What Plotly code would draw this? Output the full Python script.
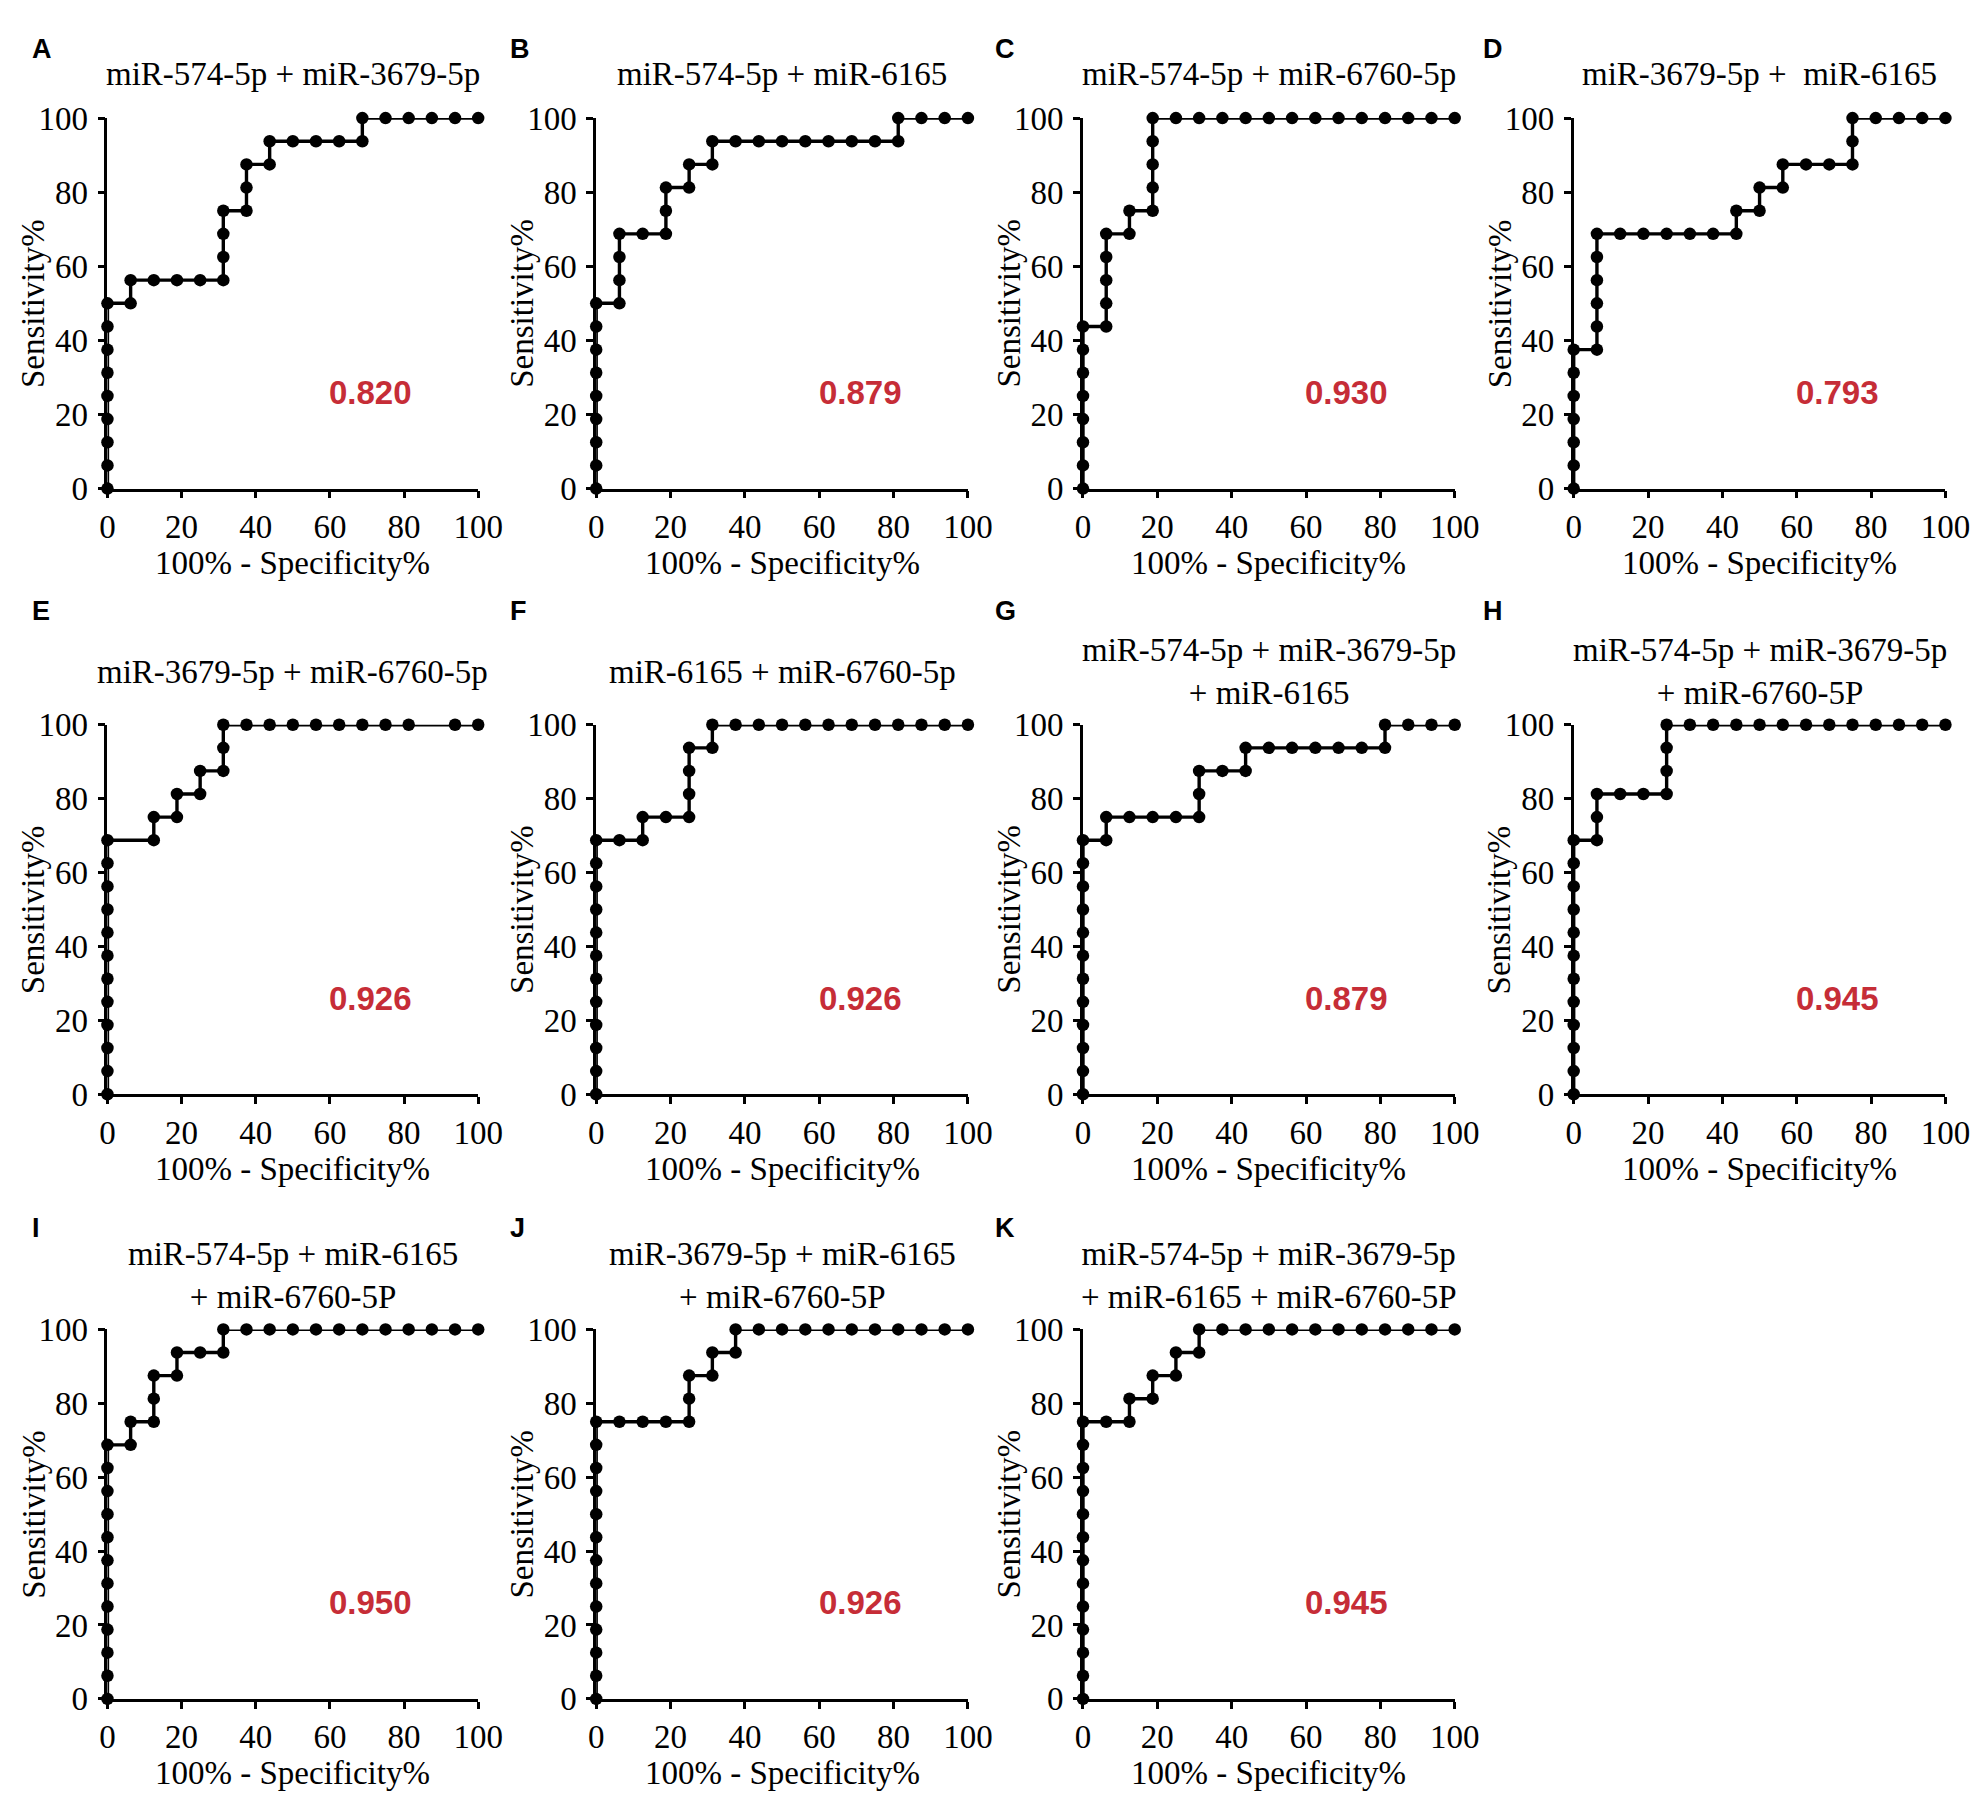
import plotly.graph_objects as go

# ROC points for each panel (100% - specificity%, sensitivity%)
panel_letters = ["A", "B", "C", "D", "E", "F", "G", "H", "I", "J", "K"]

panel_titles = [
    "miR-574-5p + miR-3679-5p",
    "miR-574-5p + miR-6165",
    "miR-574-5p + miR-6760-5p",
    "miR-3679-5p +  miR-6165",
    "miR-3679-5p + miR-6760-5p",
    "miR-6165 + miR-6760-5p",
    "miR-574-5p + miR-3679-5p<br>+ miR-6165",
    "miR-574-5p + miR-3679-5p<br>+ miR-6760-5P",
    "miR-574-5p + miR-6165<br>+ miR-6760-5P",
    "miR-3679-5p + miR-6165<br>+ miR-6760-5P",
    "miR-574-5p + miR-3679-5p<br>+ miR-6165 + miR-6760-5P",
]

auc_values = ["0.820", "0.879", "0.930", "0.793", "0.926", "0.926",
              "0.879", "0.945", "0.950", "0.926", "0.945"]

A_x = [0, 0, 0, 0, 0, 0, 0, 0, 0, 6.25, 6.25, 12.5, 18.75, 25, 31.25, 31.25, 31.25, 31.25,
       37.5, 37.5, 37.5, 43.75, 43.75, 50, 56.25, 62.5, 68.75, 68.75, 75, 81.25, 87.5, 93.75, 100]
A_y = [0, 6.25, 12.5, 18.75, 25, 31.25, 37.5, 43.75, 50, 50, 56.25, 56.25, 56.25, 56.25, 56.25, 62.5, 68.75, 75,
       75, 81.25, 87.5, 87.5, 93.75, 93.75, 93.75, 93.75, 93.75, 100, 100, 100, 100, 100, 100]

B_x = [0, 0, 0, 0, 0, 0, 0, 0, 0, 6.25, 6.25, 6.25, 6.25, 12.5, 18.75, 18.75, 18.75, 25, 25, 31.25, 31.25,
       37.5, 43.75, 50, 56.25, 62.5, 68.75, 75, 81.25, 81.25, 87.5, 93.75, 100]
B_y = [0, 6.25, 12.5, 18.75, 25, 31.25, 37.5, 43.75, 50, 50, 56.25, 62.5, 68.75, 68.75, 68.75, 75, 81.25, 81.25, 87.5, 87.5, 93.75,
       93.75, 93.75, 93.75, 93.75, 93.75, 93.75, 93.75, 93.75, 100, 100, 100, 100]

C_x = [0, 0, 0, 0, 0, 0, 0, 0, 6.25, 6.25, 6.25, 6.25, 6.25, 12.5, 12.5, 18.75, 18.75, 18.75, 18.75, 18.75,
       25, 31.25, 37.5, 43.75, 50, 56.25, 62.5, 68.75, 75, 81.25, 87.5, 93.75, 100]
C_y = [0, 6.25, 12.5, 18.75, 25, 31.25, 37.5, 43.75, 43.75, 50, 56.25, 62.5, 68.75, 68.75, 75, 75, 81.25, 87.5, 93.75, 100,
       100, 100, 100, 100, 100, 100, 100, 100, 100, 100, 100, 100, 100]

D_x = [0, 0, 0, 0, 0, 0, 0, 6.25, 6.25, 6.25, 6.25, 6.25, 6.25, 12.5, 18.75, 25, 31.25, 37.5, 43.75, 43.75,
       50, 50, 56.25, 56.25, 62.5, 68.75, 75, 75, 75, 81.25, 87.5, 93.75, 100]
D_y = [0, 6.25, 12.5, 18.75, 25, 31.25, 37.5, 37.5, 43.75, 50, 56.25, 62.5, 68.75, 68.75, 68.75, 68.75, 68.75, 68.75, 68.75, 75,
       75, 81.25, 81.25, 87.5, 87.5, 87.5, 87.5, 93.75, 100, 100, 100, 100, 100]

E_x = [0, 0, 0, 0, 0, 0, 0, 0, 0, 0, 0, 0, 12.5, 12.5, 18.75, 18.75, 25, 25, 31.25, 31.25, 31.25,
       37.5, 43.75, 50, 56.25, 62.5, 68.75, 75, 81.25, 93.75, 100]
E_y = [0, 6.25, 12.5, 18.75, 25, 31.25, 37.5, 43.75, 50, 56.25, 62.5, 68.75, 68.75, 75, 75, 81.25, 81.25, 87.5, 87.5, 93.75, 100,
       100, 100, 100, 100, 100, 100, 100, 100, 100, 100]

F_x = [0, 0, 0, 0, 0, 0, 0, 0, 0, 0, 0, 0, 6.25, 12.5, 12.5, 18.75, 25, 25, 25, 25, 31.25, 31.25,
       37.5, 43.75, 50, 56.25, 62.5, 68.75, 75, 81.25, 87.5, 93.75, 100]
F_y = [0, 6.25, 12.5, 18.75, 25, 31.25, 37.5, 43.75, 50, 56.25, 62.5, 68.75, 68.75, 68.75, 75, 75, 75, 81.25, 87.5, 93.75, 93.75, 100,
       100, 100, 100, 100, 100, 100, 100, 100, 100, 100, 100]

G_x = [0, 0, 0, 0, 0, 0, 0, 0, 0, 0, 0, 0, 6.25, 6.25, 12.5, 18.75, 25, 31.25, 31.25, 31.25, 37.5, 43.75, 43.75,
       50, 56.25, 62.5, 68.75, 75, 81.25, 81.25, 87.5, 93.75, 100]
G_y = [0, 6.25, 12.5, 18.75, 25, 31.25, 37.5, 43.75, 50, 56.25, 62.5, 68.75, 68.75, 75, 75, 75, 75, 75, 81.25, 87.5, 87.5, 87.5, 93.75,
       93.75, 93.75, 93.75, 93.75, 93.75, 93.75, 100, 100, 100, 100]

H_x = [0, 0, 0, 0, 0, 0, 0, 0, 0, 0, 0, 0, 6.25, 6.25, 6.25, 12.5, 18.75, 25, 25, 25, 25,
       31.25, 37.5, 43.75, 50, 56.25, 62.5, 68.75, 75, 81.25, 87.5, 93.75, 100]
H_y = [0, 6.25, 12.5, 18.75, 25, 31.25, 37.5, 43.75, 50, 56.25, 62.5, 68.75, 68.75, 75, 81.25, 81.25, 81.25, 81.25, 87.5, 93.75, 100,
       100, 100, 100, 100, 100, 100, 100, 100, 100, 100, 100, 100]

I_x = [0, 0, 0, 0, 0, 0, 0, 0, 0, 0, 0, 0, 6.25, 6.25, 12.5, 12.5, 12.5, 18.75, 18.75, 25, 31.25, 31.25,
       37.5, 43.75, 50, 56.25, 62.5, 68.75, 75, 81.25, 87.5, 93.75, 100]
I_y = [0, 6.25, 12.5, 18.75, 25, 31.25, 37.5, 43.75, 50, 56.25, 62.5, 68.75, 68.75, 75, 75, 81.25, 87.5, 87.5, 93.75, 93.75, 93.75, 100,
       100, 100, 100, 100, 100, 100, 100, 100, 100, 100, 100]

J_x = [0, 0, 0, 0, 0, 0, 0, 0, 0, 0, 0, 0, 0, 6.25, 12.5, 18.75, 25, 25, 25, 31.25, 31.25, 37.5, 37.5,
       43.75, 50, 56.25, 62.5, 68.75, 75, 81.25, 87.5, 93.75, 100]
J_y = [0, 6.25, 12.5, 18.75, 25, 31.25, 37.5, 43.75, 50, 56.25, 62.5, 68.75, 75, 75, 75, 75, 75, 81.25, 87.5, 87.5, 93.75, 93.75, 100,
       100, 100, 100, 100, 100, 100, 100, 100, 100, 100]

K_x = [0, 0, 0, 0, 0, 0, 0, 0, 0, 0, 0, 0, 0, 6.25, 12.5, 12.5, 18.75, 18.75, 25, 25, 31.25, 31.25,
       37.5, 43.75, 50, 56.25, 62.5, 68.75, 75, 81.25, 87.5, 93.75, 100]
K_y = [0, 6.25, 12.5, 18.75, 25, 31.25, 37.5, 43.75, 50, 56.25, 62.5, 68.75, 75, 75, 75, 81.25, 81.25, 87.5, 87.5, 93.75, 93.75, 100,
       100, 100, 100, 100, 100, 100, 100, 100, 100, 100, 100]

panel_x = [A_x, B_x, C_x, D_x, E_x, F_x, G_x, H_x, I_x, J_x, K_x]
panel_y = [A_y, B_y, C_y, D_y, E_y, F_y, G_y, H_y, I_y, J_y, K_y]

tick_vals = [0, 20, 40, 60, 80, 100]
tick_text = ["0", "20", "40", "60", "80", "100"]

# page geometry in pixels
W, H = 1988, 1802
col_left = [93, 590, 1085, 1584]
col_right = [470, 968, 1463, 1962]
row_top = [95, 714, 1331]
row_bottom = [473, 1091, 1708]
title_y = [50, 660, 1276]
letter_left = [14, 500, 993, 1490]
letter_y = [24, 598, 1228]

SERIF = "Liberation Serif"
SANS = "Liberation Sans"
AUC_RED = "#c62d37"
FS = 33


def px_x(v):
    return v / W


def px_y(v):
    return 1 - v / H


fig = go.Figure()
annotations = []

for i, letter in enumerate(panel_letters):
    row, col = divmod(i, 4)
    n = i + 1
    xa = "x" if n == 1 else f"x{n}"
    ya = "y" if n == 1 else f"y{n}"
    x0, x1 = col_left[col], col_right[col]
    y0, y1 = row_top[row], row_bottom[row]

    fig.add_trace(
        go.Scatter(
            x=panel_x[i],
            y=panel_y[i],
            mode="lines+markers",
            line=dict(color="black", width=3.4),
            marker=dict(color="black", size=12.5),
            cliponaxis=False,
            xaxis=xa,
            yaxis=ya,
            showlegend=False,
            hoverinfo="x+y",
        )
    )

    axis_style = dict(
        range=[0, 100],
        tickvals=tick_vals,
        ticktext=tick_text,
        showgrid=False,
        zeroline=False,
        showline=True,
        linecolor="black",
        linewidth=2.8,
        ticks="outside",
        ticklen=7,
        tickwidth=2.8,
        tickcolor="black",
        tickfont=dict(family=SERIF, size=FS, color="black"),
        fixedrange=True,
    )
    fig.update_layout(
        {
            ("xaxis" if n == 1 else f"xaxis{n}"): dict(
                axis_style,
                domain=[px_x(x0), px_x(x1)],
                anchor=ya,
                ticklabelstandoff=0,
            ),
            ("yaxis" if n == 1 else f"yaxis{n}"): dict(
                axis_style,
                domain=[px_y(y1), px_y(y0)],
                anchor=xa,
                ticklabelstandoff=3,
            ),
        }
    )

    # panel title
    annotations.append(dict(
        text=panel_titles[i], xref="paper", yref="paper",
        x=px_x((x0 + x1) / 2), y=px_y(title_y[row]),
        xanchor="center", yanchor="middle", showarrow=False,
        font=dict(family=SERIF, size=FS, color="black"),
    ))
    # panel letter
    annotations.append(dict(
        text=f"<b>{letter}</b>", xref="paper", yref="paper",
        x=px_x(letter_left[col]), y=px_y(letter_y[row]),
        xanchor="left", yanchor="middle", showarrow=False,
        font=dict(family=SANS, size=27, color="black"),
    ))
    # axis titles
    annotations.append(dict(
        text="100% - Specificity%", xref="paper", yref="paper",
        x=px_x((x0 + x1) / 2), y=px_y(y1 + 76),
        xanchor="center", yanchor="middle", showarrow=False,
        font=dict(family=SERIF, size=FS, color="black"),
    ))
    annotations.append(dict(
        text="Sensitivity%", xref="paper", yref="paper",
        x=px_x(x0 - 75), y=px_y((y0 + y1) / 2),
        xanchor="center", yanchor="middle", showarrow=False, textangle=-90,
        font=dict(family=SERIF, size=FS, color="black"),
    ))
    # AUC value
    annotations.append(dict(
        text=f"<b>{auc_values[i]}</b>", xref=xa, yref=ya,
        x=71, y=26, xanchor="center", yanchor="middle", showarrow=False,
        font=dict(family=SANS, size=FS, color=AUC_RED),
    ))

fig.update_layout(
    width=W,
    height=H,
    margin=dict(l=0, r=0, t=0, b=0),
    paper_bgcolor="white",
    plot_bgcolor="white",
    annotations=annotations,
)

fig.write_html("out.html")
